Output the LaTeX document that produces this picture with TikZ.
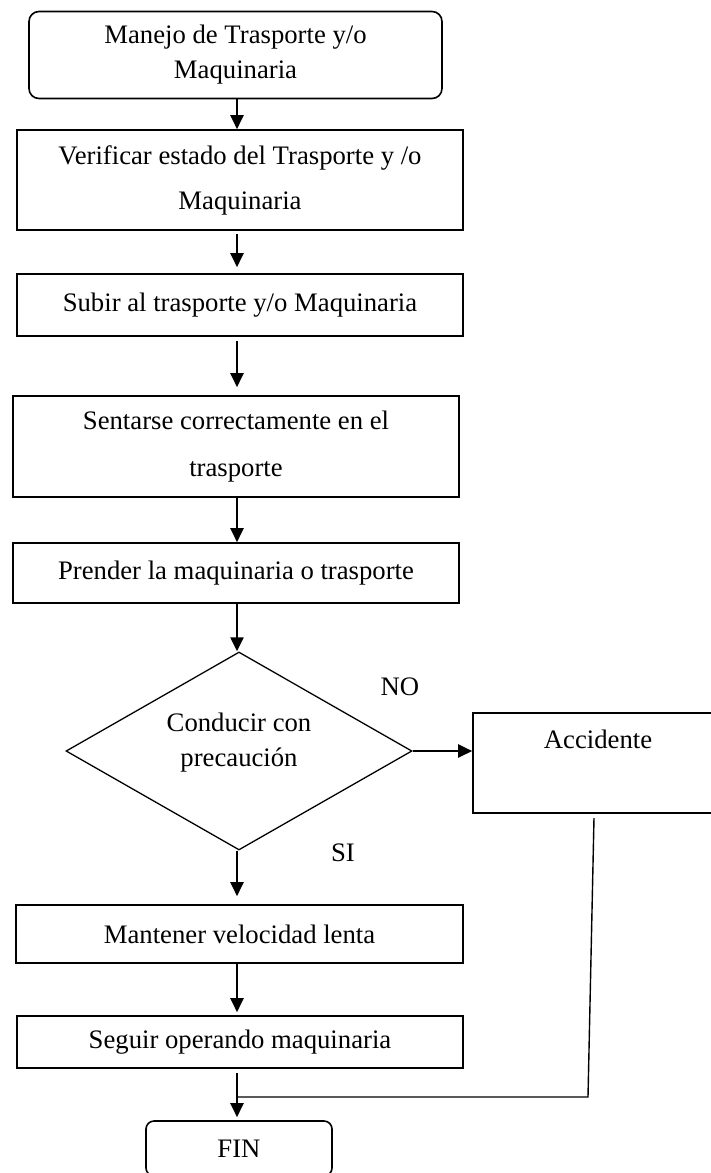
\documentclass[tikz,border=0pt]{standalone}
\usepackage{fontspec}
\setmainfont{Liberation Serif}
\usetikzlibrary{shapes.geometric,arrows.meta}
\begin{document}
\begin{tikzpicture}[x=1bp,y=-1bp,
  every node/.style={font=\fontsize{26.7bp}{35bp}\selectfont, inner sep=0pt},
  box/.style={draw, line width=1.6bp, align=center},
  rbox/.style={box, rounded corners=10bp},
  dia/.style={draw, diamond, line width=1.3bp, aspect=1.75},
  arr/.style={line width=2.2bp, -{Triangle[length=14bp,width=13bp]}}
]
\useasboundingbox (0,0) rectangle (711,1173);

\node[rbox, minimum width=413bp, minimum height=87bp] (b1) at (235.5,55) {Manejo de Trasporte y/o\\Maquinaria};
\node[box, minimum width=446bp, minimum height=100bp, font=\fontsize{26.7bp}{45bp}\selectfont] (b2) at (240,180) {Verificar estado del Trasporte y /o\\Maquinaria};
\node[box, minimum width=446bp, minimum height=62bp] (b3) at (240,305) {Subir al trasporte y/o Maquinaria};
\node[box, minimum width=446bp, minimum height=101bp, font=\fontsize{26.7bp}{47bp}\selectfont] (b4) at (236,446.5) {Sentarse correctamente en el\\trasporte};
\node[box, minimum width=446bp, minimum height=60bp] (b5) at (236,573) {Prender la maquinaria o trasporte};
\node[dia, minimum width=346bp, minimum height=198bp] (d) at (239,751) {\raisebox{3bp}[0pt][0pt]{\begin{tabular}{@{}c@{}}Conducir con\\precaución\end{tabular}}};
\node[box, minimum width=250bp, minimum height=100bp, text height=20bp, text depth=50bp] (acc) at (598,763) {Accidente};
\node[box, minimum width=447bp, minimum height=58bp] (m) at (239.5,934) {Mantener velocidad lenta};
\node[box, minimum width=446bp, minimum height=52bp] (s) at (240,1042) {Seguir operando maquinaria};
\node[rbox, rounded corners=8bp, minimum width=186bp, minimum height=55bp] (fin) at (239,1148.5) {FIN};
\node (no) at (400,687) {NO};
\node (si) at (343,853) {SI};

\coordinate (ax) at (237,0);
\draw[arr] (b1.south -| ax) -- (b2.north -| ax);
\draw[arr, shorten <=3bp, shorten >=6bp] (b2.south -| ax) -- (b3.north -| ax);
\draw[arr, shorten <=4bp, shorten >=8bp] (b3.south -| ax) -- (b4.north -| ax);
\draw[arr] (b4.south -| ax) -- (b5.north -| ax);
\draw[arr] (b5.south -| ax) -- (d.north -| ax);
\draw[arr, shorten >=8bp] (d.south -| ax) -- (m.north -| ax);
\draw[arr, shorten >=3bp] (m.south -| ax) -- (s.north -| ax);
\draw[arr, shorten <=4bp, shorten >=3bp] (s.south -| ax) -- (fin.north -| ax);
\draw[arr] (d.east) -- (d.east -| acc.west);
\coordinate (r1) at (594,818);
\coordinate (r2) at (588,1097);
\draw[line width=1.4bp] (r1) -- (r2) -- (r2 -| ax);
\end{tikzpicture}
\end{document}
